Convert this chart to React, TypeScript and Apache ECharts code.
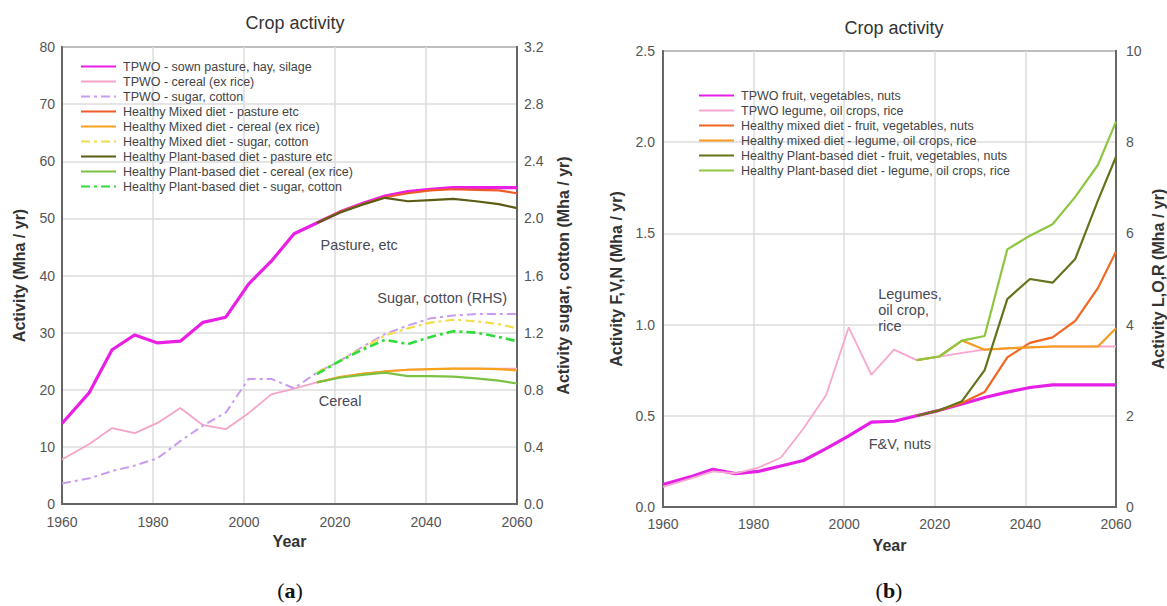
import React, { useEffect, useRef } from "react";
import * as echarts from "echarts";

const years = [1960, 1966, 1971, 1976, 1981, 1986, 1991, 1996, 2001, 2006, 2011, 2016, 2021, 2026, 2031, 2036, 2041, 2046, 2051, 2056, 2060];
const xTicks = [1960, 1980, 2000, 2020, 2040, 2060];

const N = null;
// Panel (a): LHS Mha/yr
const tpwoPasture = [14.1, 19.5, 27.0, 29.6, 28.2, 28.5, 31.8, 32.7, 38.5, 42.5, 47.3, 49.2, 51.1, 52.6, 53.9, 54.7, 55.1, 55.4, 55.4, 55.4, 55.4];
const tpwoCereal = [7.8, 10.5, 13.3, 12.4, 14.2, 16.8, 13.8, 13.1, 15.9, 19.2, 20.2, 21.3, 22.2, 22.8, 23.2, 23.5, 23.6, 23.7, 23.7, 23.7, 23.7];
const mixedPasture = [N, N, N, N, N, N, N, N, N, N, N, 49.2, 51.1, 52.5, 53.7, 54.4, 54.9, 55.1, 55.0, 54.9, 54.4];
const mixedCereal = [N, N, N, N, N, N, N, N, N, N, N, 21.3, 22.2, 22.8, 23.2, 23.5, 23.6, 23.7, 23.7, 23.6, 23.4];
const plantPasture = [N, N, N, N, N, N, N, N, N, N, N, 49.2, 51.0, 52.4, 53.6, 53.0, 53.2, 53.4, 53.0, 52.5, 51.8];
const plantCereal = [N, N, N, N, N, N, N, N, N, N, N, 21.3, 22.1, 22.6, 23.0, 22.4, 22.4, 22.3, 22.0, 21.6, 21.1];
// Panel (a): RHS sugar, cotton
const tpwoSugar = [0.144, 0.18, 0.23, 0.27, 0.32, 0.44, 0.55, 0.64, 0.876, 0.876, 0.81, 0.92, 1.0, 1.1, 1.19, 1.25, 1.3, 1.32, 1.33, 1.33, 1.33];
const mixedSugar = [N, N, N, N, N, N, N, N, N, N, N, 0.92, 1.0, 1.09, 1.18, 1.23, 1.27, 1.29, 1.28, 1.26, 1.23];
const plantSugar = [N, N, N, N, N, N, N, N, N, N, N, 0.91, 1.0, 1.08, 1.15, 1.12, 1.17, 1.21, 1.2, 1.17, 1.14];

// Panel (b): LHS F,V,N ; RHS L,O,R
const tpwoFruit = [0.123, 0.165, 0.207, 0.183, 0.195, 0.225, 0.255, 0.32, 0.39, 0.465, 0.47, 0.5, 0.53, 0.565, 0.6, 0.63, 0.655, 0.67, 0.67, 0.67, 0.67];
const tpwoLegume = [0.44, 0.62, 0.78, 0.74, 0.86, 1.08, 1.72, 2.45, 3.94, 2.9, 3.45, 3.22, 3.3, 3.38, 3.45, 3.48, 3.5, 3.52, 3.52, 3.52, 3.52];
const mixedFruit = [N, N, N, N, N, N, N, N, N, N, N, 0.5, 0.53, 0.57, 0.63, 0.82, 0.9, 0.93, 1.02, 1.2, 1.4];
const mixedLegume = [N, N, N, N, N, N, N, N, N, N, N, 3.22, 3.3, 3.65, 3.45, 3.48, 3.5, 3.52, 3.52, 3.52, 3.92];
const plantFruit = [N, N, N, N, N, N, N, N, N, N, N, 0.5, 0.53, 0.58, 0.75, 1.14, 1.25, 1.23, 1.36, 1.68, 1.92];
const plantLegume = [N, N, N, N, N, N, N, N, N, N, N, 3.22, 3.3, 3.65, 3.75, 5.65, 5.95, 6.2, 6.8, 7.5, 8.45];

const namesA = [
  "TPWO - sown pasture, hay, silage",
  "TPWO - cereal (ex rice)",
  "TPWO - sugar, cotton",
  "Healthy Mixed diet - pasture etc",
  "Healthy Mixed diet - cereal (ex rice)",
  "Healthy Mixed diet - sugar, cotton",
  "Healthy Plant-based diet - pasture etc",
  "Healthy Plant-based diet - cereal (ex rice)",
  "Healthy Plant-based diet - sugar, cotton",
];
const namesB = [
  "TPWO fruit, vegetables, nuts",
  "TPWO legume, oil crops, rice",
  "Healthy mixed diet - fruit, vegetables, nuts",
  "Healthy mixed diet - legume, oil crops, rice",
  "Healthy Plant-based diet - fruit, vegetables, nuts",
  "Healthy Plant-based diet - legume, oil crops, rice",
];

const FONT = "Liberation Sans, Arial, sans-serif";

function pairs(vals: (number | null)[]) {
  const out: [number, number][] = [];
  vals.forEach((v, i) => {
    if (v !== null) out.push([years[i], v]);
  });
  return out;
}

const DASHDOT = [9, 4, 3, 4];

function line(name: string, vals: (number | null)[], color: string, width: number, gi: number, yi: number, dash?: any, extra?: any) {
  return {
    type: "line",
    name,
    xAxisIndex: gi,
    yAxisIndex: yi,
    data: pairs(vals),
    symbol: "none",
    lineStyle: { color, width, type: dash || "solid" },
    itemStyle: { color },
    z: 3,
    ...(extra || {}),
  };
}

function note(coord: [number, number], text: string, lineHeight = 16) {
  return {
    coord,
    symbol: "circle",
    symbolSize: 1,
    itemStyle: { color: "rgba(0,0,0,0)" },
    label: {
      show: true,
      position: "right",
      distance: 0,
      formatter: text,
      color: "#4a4a55",
      fontSize: 14.5,
      fontFamily: FONT,
      lineHeight,
      align: "left",
    },
  };
}

function xAxis(gi: number, labelMargin: number, nameGap: number) {
  return {
    type: "value",
    gridIndex: gi,
    min: 1960,
    max: 2060,
    interval: 20,
    name: "Year",
    nameLocation: "middle",
    nameGap,
    nameTextStyle: { fontWeight: "bold", fontSize: 16, color: "#333", fontFamily: FONT },
    axisLine: { show: true, lineStyle: { color: "#666", width: 2 } },
    axisTick: { show: false },
    axisLabel: { color: "#555", fontSize: 14, margin: labelMargin, fontFamily: FONT, formatter: (v: number) => (xTicks.includes(v) ? String(v) : "") },
    splitLine: { show: true, lineStyle: { color: "#dcdcdc", width: 1.5 } },
  };
}

function yAxis(gi: number, pos: string, min: number, max: number, interval: number, name: string, nameGap: number, digits: number, split: boolean, margin: number) {
  return {
    type: "value",
    gridIndex: gi,
    position: pos,
    min,
    max,
    interval,
    name,
    nameLocation: "middle",
    nameRotate: 90,
    nameGap,
    nameTextStyle: { fontWeight: "bold", fontSize: 16, color: "#333", fontFamily: FONT },
    axisLine: { show: true, lineStyle: { color: "#666", width: 2 } },
    axisTick: { show: false },
    axisLabel: { color: "#555", fontSize: 14, margin, fontFamily: FONT, formatter: (v: number) => v.toFixed(digits) },
    splitLine: { show: split, lineStyle: { color: "#dcdcdc", width: 1.5 } },
  };
}

export default function App() {
  const ref = useRef<HTMLDivElement>(null);
  useEffect(() => {
    if (!ref.current) return;
    const chart = echarts.init(ref.current, null, { renderer: "svg" });
    const legendCommon = {
      orient: "vertical",
      padding: 0,
      itemWidth: 35,
      itemHeight: 13,
      itemGap: 2,
      itemStyle: { opacity: 0 },
      textStyle: { fontSize: 12.5, color: "#444", fontFamily: FONT, lineHeight: 13, padding: [0, 0, 0, 2] },
      selectedMode: false,
    };
    const serifRich = {
      n: { fontFamily: "Liberation Serif, serif", fontSize: 22, fill: "#111" },
      b: { fontFamily: "Liberation Serif, serif", fontSize: 22, fontWeight: "bold", fill: "#111" },
    };
    const option: any = {
      animation: false,
      backgroundColor: "#fff",
      title: [
        { text: "Crop activity", left: 290, top: 9, textAlign: "center", textStyle: { fontSize: 18, fontWeight: "normal", color: "#333", fontFamily: FONT } },
        { text: "Crop activity", left: 889, top: 14, textAlign: "center", textStyle: { fontSize: 18, fontWeight: "normal", color: "#333", fontFamily: FONT } },
      ],
      grid: [
        { left: 62, right: 650, top: 47, bottom: 102, show: true, borderColor: "#666", borderWidth: 2, backgroundColor: "#fff" },
        { left: 663, right: 51, top: 51, bottom: 99, show: true, borderColor: "#666", borderWidth: 2, backgroundColor: "#fff" },
      ],
      xAxis: [xAxis(0, 11, 28), xAxis(1, 10, 30)],
      yAxis: [
        yAxis(0, "left", 0, 80, 10, "Activity (Mha / yr)", 35, 0, true, 7),
        yAxis(0, "right", 0, 3.2, 0.4, "Activity sugar, cotton (Mha / yr)", 38, 1, false, 7),
        yAxis(1, "left", 0, 2.5, 0.5, "Activity F,V,N (Mha / yr)", 39, 1, true, 8),
        yAxis(1, "right", 0, 10, 2, "Activity L,O,R (Mha / yr)", 34, 0, false, 10),
      ],
      legend: [
        { ...legendCommon, left: 80, top: 60, data: namesA },
        { ...legendCommon, left: 698, top: 89, data: namesB },
      ],
      series: [
        line(namesA[0], tpwoPasture, "#ea1fe6", 3.2, 0, 0, null, {
          z: 2,
          markPoint: {
            data: [note([2016.7, 45.3], "Pasture, etc"), note([2029.2, 36.1], "Sugar, cotton (RHS)"), note([2016.3, 18.1], "Cereal")],
          },
        }),
        line(namesA[1], tpwoCereal, "#f5a3c9", 1.8, 0, 0, null, { z: 2 }),
        line(namesA[2], tpwoSugar, "#c99cf2", 2, 0, 1, DASHDOT, { z: 2 }),
        line(namesA[3], mixedPasture, "#f05a28", 2.2, 0, 0),
        line(namesA[4], mixedCereal, "#f7a21b", 2.2, 0, 0),
        line(namesA[5], mixedSugar, "#f3dc4a", 2.2, 0, 1, DASHDOT),
        line(namesA[6], plantPasture, "#5c5c14", 2.2, 0, 0),
        line(namesA[7], plantCereal, "#7cc242", 2.2, 0, 0),
        line(namesA[8], plantSugar, "#2edc3a", 2.6, 0, 1, DASHDOT),

        line(namesB[0], tpwoFruit, "#e61fe6", 3.2, 1, 2, null, {
          z: 2,
          markPoint: {
            data: [note([2007.4, 1.08], "Legumes,\noil crop,\nrice", 16.4), note([2005.3, 0.345], "F&V, nuts")],
          },
        }),
        line(namesB[1], tpwoLegume, "#f7a6d0", 1.8, 1, 3, null, { z: 2 }),
        line(namesB[2], mixedFruit, "#f26522", 2.2, 1, 2),
        line(namesB[3], mixedLegume, "#f79a1e", 2.2, 1, 3),
        line(namesB[4], plantFruit, "#66731c", 2.2, 1, 2),
        line(namesB[5], plantLegume, "#8dc63f", 2.2, 1, 3),
      ],
      graphic: [
        { type: "text", x: 290, y: 590, style: { text: "{n|(}{b|a}{n|)}", textAlign: "center", textVerticalAlign: "middle", rich: serifRich } },
        { type: "text", x: 889, y: 590, style: { text: "{n|(}{b|b}{n|)}", textAlign: "center", textVerticalAlign: "middle", rich: serifRich } },
      ],
    };
    chart.setOption(option);
    return () => chart.dispose();
  }, []);
  return <div ref={ref} style={{ position: "fixed", left: 0, top: 0, width: 1167, height: 606, background: "#fff" }} />;
}
